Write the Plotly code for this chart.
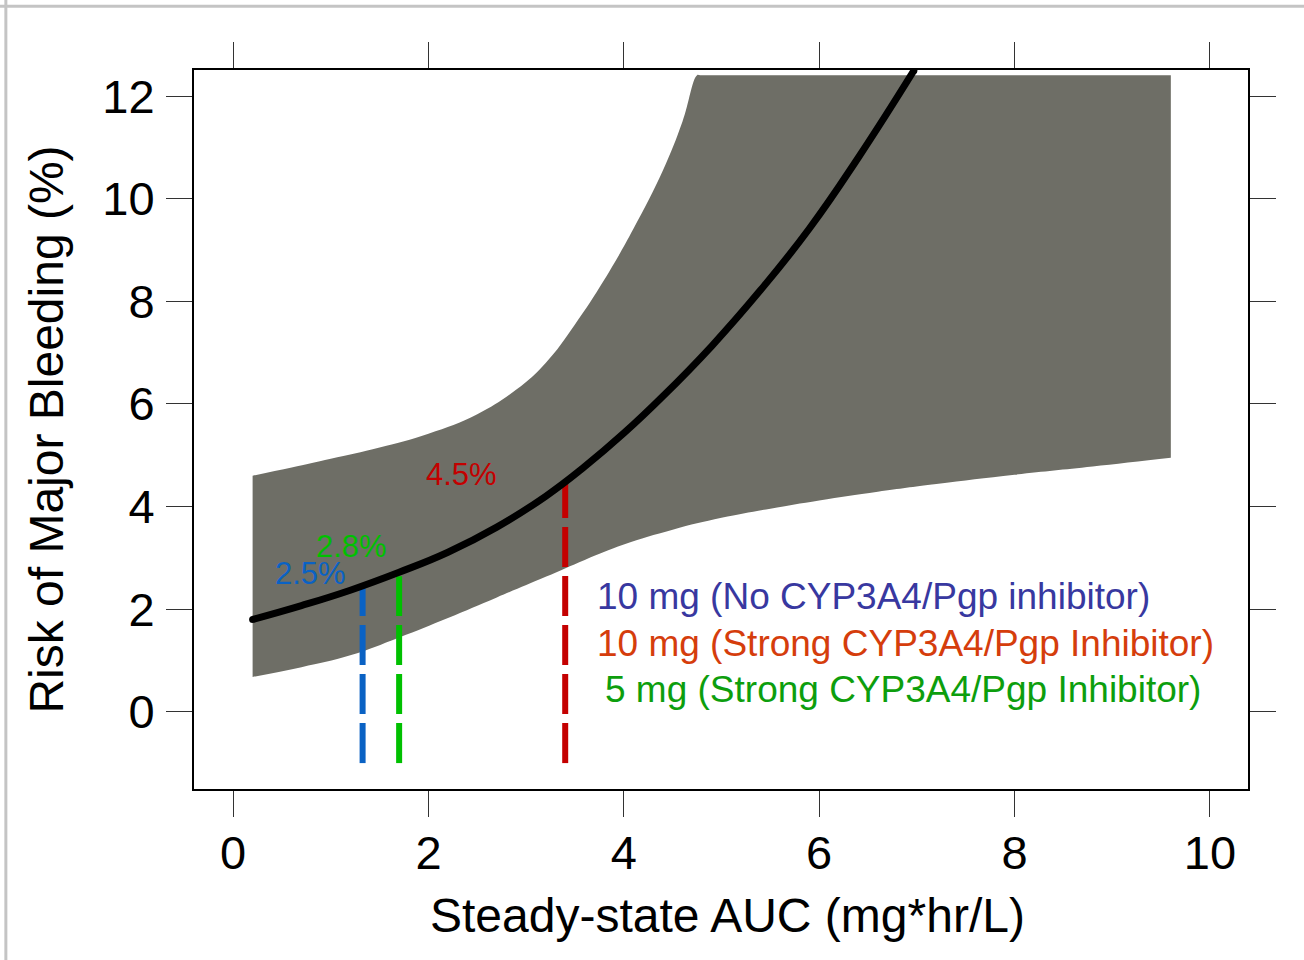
import plotly.graph_objects as go

# ---- data ----
curve_auc = [0.2, 0.7, 1.2, 1.7, 2.2, 2.7, 3.2, 3.6, 4.0, 4.4, 4.9, 5.4, 5.9, 6.4, 6.97]
curve_risk = [1.80, 2.07, 2.37, 2.72, 3.11, 3.60, 4.20, 4.78, 5.43, 6.15, 7.13, 8.22, 9.42, 10.80, 12.50]

upper_auc = [0.2, 0.6, 1.0, 1.5, 2.0, 2.5, 2.9, 3.2, 3.5, 3.8, 4.1, 4.4, 4.6, 4.75, 4.78, 9.6]
upper_risk = [4.60, 4.76, 4.93, 5.15, 5.42, 5.80, 6.28, 6.80, 7.55, 8.42, 9.42, 10.55, 11.50, 12.41, 12.41, 12.41]

lower_auc = [0.2, 0.7, 1.2, 1.7, 2.2, 2.7, 3.2, 3.6, 4.0, 4.5, 5.0, 5.5, 6.0, 6.6, 7.2, 8.0, 8.8, 9.6]
lower_risk = [0.68, 0.87, 1.10, 1.45, 1.83, 2.23, 2.63, 2.96, 3.26, 3.55, 3.78, 3.96, 4.12, 4.29, 4.44, 4.62, 4.78, 4.95]

dose_auc = [1.326, 1.70, 3.40]
dose_risk_top = [2.47, 2.64, 4.46]
dose_floor = -1.0
dose_labels = ["2.5%", "2.8%", "4.5%"]
dose_colors = ["#0a62c4", "#00c000", "#c40000"]

legend_texts = ["10 mg (No CYP3A4/Pgp inhibitor)",
                "10 mg (Strong CYP3A4/Pgp Inhibitor)",
                "5 mg (Strong CYP3A4/Pgp Inhibitor)"]
legend_colors = ["#3838a0", "#d53d0c", "#0d9e0d"]

x_ticks = [0, 2, 4, 6, 8, 10]
y_ticks = [0, 2, 4, 6, 8, 10, 12]

FONT = "Liberation Sans, Arial, sans-serif"
BAND = "#6e6e66"

fig = go.Figure()

# confidence band: lower edge, then upper edge filled down to it
fig.add_trace(go.Scatter(
    x=lower_auc, y=lower_risk, mode="lines",
    line=dict(width=0, color=BAND, shape="spline", smoothing=1.2),
    hoverinfo="skip", showlegend=False))
fig.add_trace(go.Scatter(
    x=upper_auc, y=upper_risk, mode="lines", fill="tonexty", fillcolor=BAND,
    line=dict(width=0, color=BAND, shape="spline", smoothing=1.2),
    hoverinfo="skip", showlegend=False))

# dose lines
for xa, top, col in zip(dose_auc, dose_risk_top, dose_colors):
    fig.add_trace(go.Scatter(
        x=[xa, xa], y=[dose_floor, top], mode="lines",
        line=dict(color=col, width=6, dash="40px,9px"), showlegend=False))

# main curve
fig.add_trace(go.Scatter(
    x=curve_auc, y=curve_risk, mode="lines",
    line=dict(color="black", width=7, shape="spline", smoothing=1.3), showlegend=False))
fig.add_trace(go.Scatter(
    x=[curve_auc[0], curve_auc[-1]], y=[curve_risk[0], curve_risk[-1]], mode="markers",
    marker=dict(color="black", size=7), showlegend=False))

# percentage labels
label_pos = [(0.791, 2.687), (1.213, 3.23), (2.338, 4.62)]
for (lx, ly), txt, col in zip(label_pos, dose_labels, dose_colors):
    fig.add_annotation(x=lx, y=ly, text=txt, showarrow=False,
                       font=dict(family=FONT, size=31, color=col),
                       xanchor="center", yanchor="middle")

# legend-like texts
legend_pos = [(3.700, 2.24), (3.700, 1.34), (3.790, 0.43)]
for (lx, ly), txt, col in zip(legend_pos, legend_texts, legend_colors):
    fig.add_annotation(x=lx, y=ly, text=txt, showarrow=False,
                       font=dict(family=FONT, size=37, color=col),
                       xanchor="left", yanchor="middle")

# axis titles
fig.add_annotation(xref="paper", yref="paper", x=0.506, y=-0.176,
                   text="Steady-state AUC (mg*hr/L)", showarrow=False,
                   font=dict(family=FONT, size=48, color="black"),
                   xanchor="center", yanchor="middle")
fig.add_annotation(xref="paper", yref="paper", x=-0.1408, y=0.4993,
                   text="Risk of Major Bleeding (%)", showarrow=False, textangle=-90,
                   font=dict(family=FONT, size=48, color="black"),
                   xanchor="center", yanchor="middle")

# outer light-gray frame (top & left)
fig.add_shape(type="line", xref="paper", yref="paper", x0=-0.2, x1=1.06, y0=1.0885, y1=1.0885,
              line=dict(color="#c4c4c4", width=3))
fig.add_shape(type="line", xref="paper", yref="paper", x0=-0.1785, x1=-0.1785, y0=1.1, y1=-0.25,
              line=dict(color="#c4c4c4", width=3))

axis_common = dict(showline=True, linecolor="black", linewidth=2, mirror="allticks",
                   ticks="outside", ticklen=26, tickwidth=1.3, tickcolor="#333333",
                   showgrid=False, zeroline=False,
                   tickfont=dict(family=FONT, size=47, color="black"))

fig.update_xaxes(range=[-0.40, 10.39], tickvals=x_ticks, ticktext=[str(v) for v in x_ticks],
                 ticklabelstandoff=-4, **axis_common)
fig.update_yaxes(range=[-1.505, 12.51], tickvals=y_ticks, ticktext=[str(v) for v in y_ticks],
                 ticklabelstandoff=2, **axis_common)

fig.update_layout(width=1304, height=960, paper_bgcolor="white", plot_bgcolor="white",
                  margin=dict(l=194, r=56, t=70, b=171), showlegend=False,
                  font=dict(family=FONT))

fig.write_html("out.html", config={"displayModeBar": False})
